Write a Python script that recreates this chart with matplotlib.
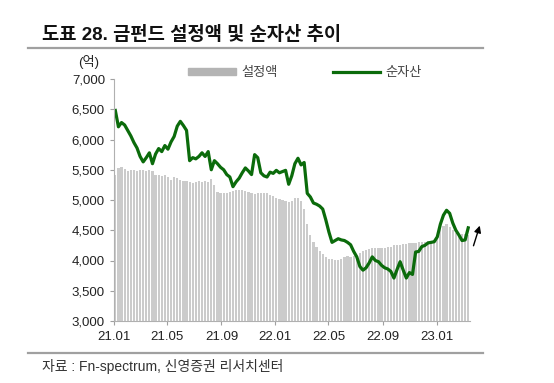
import numpy as np
import pandas as pd
import matplotlib
matplotlib.use("Agg")
import matplotlib.pyplot as plt
import matplotlib.dates as mdates
from matplotlib.lines import Line2D

plt.rcParams['font.family'] = ['Liberation Sans', 'Noto Sans CJK KR', 'DejaVu Sans']

# weekly observations, 2021-01-04 .. 2023-03-13
dates = pd.date_range("2021-01-04", periods=115, freq="7D")

# 설정액 (억)
setup_amt = [
    5410, 5530, 5540, 5520, 5480, 5500, 5490, 5480, 5500, 5490,
    5480, 5490, 5480, 5420, 5410, 5400, 5410, 5380, 5330, 5380,
    5360, 5330, 5320, 5310, 5300, 5280, 5300, 5310, 5300, 5310,
    5300, 5340, 5240, 5130, 5120, 5120, 5120, 5130, 5150, 5160,
    5160, 5160, 5150, 5130, 5110, 5100, 5110, 5120, 5120, 5110,
    5080, 5060, 5040, 5020, 5000, 4990, 4970, 4990, 5030, 5040,
    4980, 4850, 4600, 4420, 4300, 4220, 4150, 4100, 4050, 4030,
    4020, 4010, 4010, 4030, 4050, 4070, 4060, 4070, 4080, 4120,
    4150, 4170, 4190, 4200, 4200, 4210, 4200, 4210, 4220, 4230,
    4250, 4260, 4260, 4270, 4280, 4290, 4290, 4290, 4300, 4300,
    4310, 4320, 4330, 4340, 4390, 4540, 4570, 4600, 4560, 4500,
    4450, 4420, 4430, 4440, 4420,
]

# 순자산 (억)
net_assets = [
    6480, 6210, 6280, 6240, 6150, 6060, 5950, 5860, 5720, 5630,
    5700, 5780, 5600, 5760, 5850, 5800, 5900, 5840, 5960, 6050,
    6220, 6300, 6230, 6150, 5650, 5700, 5680, 5720, 5780, 5720,
    5800, 5500, 5650, 5600, 5540, 5500, 5420, 5380, 5220, 5300,
    5360, 5450, 5530, 5480, 5420, 5750, 5700, 5450, 5400, 5380,
    5460, 5440, 5490, 5450, 5470, 5490, 5260, 5400, 5600, 5690,
    5580, 5620, 5110, 5050, 4950, 4930, 4900, 4850, 4670, 4470,
    4300, 4330, 4360, 4340, 4330, 4300, 4260, 4150, 4060, 3900,
    3840, 3880, 3960, 4060, 4000, 3980, 3920, 3880, 3860, 3820,
    3710, 3850, 3980, 3840, 3710, 3800, 3770, 4140, 4150, 4230,
    4250, 4290, 4300, 4310, 4390, 4600, 4750, 4830, 4780, 4620,
    4500, 4420, 4330, 4340, 4540,
]

tick_dates = pd.to_datetime(["2021-01-01", "2021-05-01", "2021-09-01", "2022-01-01",
                             "2022-05-01", "2022-09-01", "2023-01-01"])
y_ticks = np.arange(3000, 7001, 500)

W, H = 554, 383
fig = plt.figure(figsize=(W / 100, H / 100), dpi=100)
ax = fig.add_axes([114 / W, 1 - 321 / H, (470 - 114) / W, (321 - 79) / H])

bar_col = '#cbcbcb'
green = '#0b6b0b'
ax.bar(dates, setup_amt, width=5.0, color=bar_col, linewidth=0, label='설정액')
ax.plot(dates, net_assets, color=green, lw=2.3, label='순자산')

ax.set_ylim(3000, 7000)
ax.set_xlim(pd.Timestamp("2021-01-01"), pd.Timestamp("2023-03-17"))
ax.set_yticks(y_ticks)
ax.set_yticklabels([f"{v:,}" for v in y_ticks])
ax.set_xticks(tick_dates)
ax.xaxis.set_major_formatter(mdates.DateFormatter('%y.%m'))
ax.tick_params(axis='both', labelsize=9.5, length=3, color='#a0a0a0', width=0.8, colors='#222222')
ax.tick_params(axis='x', pad=4)
for s in ['top', 'right']:
    ax.spines[s].set_visible(False)
for s in ['left', 'bottom']:
    ax.spines[s].set_color('#b0b0b0')
    ax.spines[s].set_linewidth(0.8)

handles = [plt.Rectangle((0, 0), 1, 1, color='#b4b4b4'),
           Line2D([0], [0], color=green, lw=2.3)]
ax.legend(handles, ['설정액', '순자산'], ncol=2, frameon=False, fontsize=9.5,
          loc='center', bbox_to_anchor=((305 - 114) / 356, (321 - 73) / 242),
          handlelength=3.6, handleheight=0.5, columnspacing=4.2, handletextpad=0.4,
          labelcolor='#444444')

ax.annotate('', xy=(pd.Timestamp("2023-04-10"), 4620), xytext=(pd.Timestamp("2023-03-23"), 4200),
            arrowprops=dict(arrowstyle='-|>', color='black', lw=1.0, mutation_scale=10),
            annotation_clip=False)

fig.text(89 / W, 1 - 62 / H, '(억)', ha='center', va='center', fontsize=9.5, color='#222222')
fig.text(42 / W, 1 - 35 / H, '도표 28. 금펀드 설정액 및 순자산 추이', ha='left', va='center',
         fontsize=13.5, fontweight='bold', color='#111111')
fig.add_artist(Line2D([28 / W, 483 / W], [1 - 48 / H, 1 - 48 / H], color='#a0a0a0', lw=1.6))
fig.add_artist(Line2D([28 / W, 483 / W], [1 - 353 / H, 1 - 353 / H], color='#a0a0a0', lw=1.6))
fig.text(42 / W, 1 - 367 / H, '자료 : Fn-spectrum, 신영증권 리서치센터', ha='left', va='center',
         fontsize=10, color='#333333')

fig.savefig('out.png', dpi=100)
